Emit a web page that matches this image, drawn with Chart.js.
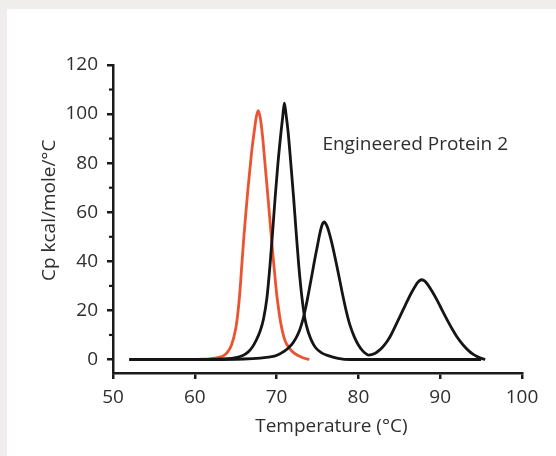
<!DOCTYPE html>
<html>
<head>
<meta charset="utf-8">
<script src="https://cdn.jsdelivr.net/npm/chart.js@4"></script>
<style>
  html, body { margin: 0; padding: 0; background: #efeeec; }
  #panel { position: absolute; left: 7px; top: 9px; width: 549px; height: 447px; background: #fff; }
  canvas { display: block; }
</style>
</head>
<body>
<div id="panel"><canvas id="dscChart" width="549" height="447"></canvas></div>
<script>
// DSC thermograms
const redTemp = [60, 61, 62, 63, 63.5, 64, 64.5, 65, 65.25, 65.5, 65.75, 66, 66.25, 66.5, 66.75, 67, 67.25, 67.5, 67.75, 68,
                 68.25, 68.5, 68.75, 69, 69.25, 69.5, 69.75, 70, 70.25, 70.5, 71, 71.5, 72, 72.7, 73.3, 74];
const redCp   = [0, 0.1, 0.4, 0.9, 1.5, 3.0, 6.0, 12.5, 18.5, 27, 38.7, 50, 60, 69.5, 78, 86, 92.5, 98.5, 101.4, 98.5,
                 92, 83, 73.5, 64, 54, 44.5, 35.5, 27, 20.5, 15, 8, 4.9, 3, 1.5, 0.6, 0];

const peak1Temp = [52, 60, 63, 64, 65, 65.8, 66.5, 67, 67.5, 68, 68.4, 68.82, 69.2, 69.52, 69.82, 70.15, 70.55, 70.75, 70.95, 71.15,
                   71.4, 71.75, 72.08, 72.38, 72.7, 73.1, 73.45, 73.85, 74.3, 74.75, 75.5, 76.4, 77.5, 79, 95];
const peak1Cp   = [0, 0, 0.1, 0.3, 0.8, 1.5, 3, 4.9, 7.8, 11.7, 16.5, 25.2, 38.7, 52.3, 65.9, 79.4, 93, 99, 104.5, 100,
                   93, 79.4, 65.9, 52.3, 38.7, 25.2, 16.8, 11.4, 7.5, 4.9, 2.7, 1.5, 0.5, 0, 0];

const peak2Temp = [52, 62, 66, 68, 69, 69.85, 70.5, 71, 71.5, 72, 72.4, 72.8, 73, 73.25, 73.5, 73.75, 74, 74.25, 74.5, 74.75,
                   75, 75.25, 75.5, 75.65, 75.83, 76, 76.25, 76.5, 76.75, 77, 77.25, 77.5, 77.75, 78, 78.25, 78.5, 78.75, 79, 79.5, 80,
                   80.5, 81, 81.25, 82, 82.5, 83, 83.5, 84, 84.5, 85, 85.5, 86, 86.5, 87, 87.25, 87.5, 87.73, 88, 88.25, 88.5,
                   89, 89.5, 90, 90.5, 91, 91.5, 92, 92.5, 93, 93.5, 94, 94.5, 95, 95.5];
const peak2Cp   = [0, 0, 0.2, 0.6, 1.0, 1.5, 2.5, 3.5, 4.9, 6.8, 8.9, 11.8, 13.8, 16.7, 20.3, 24.3, 28.7, 33.2, 37.8, 42.3,
                   46.5, 50.8, 54.2, 55.5, 56.1, 55.4, 53.6, 50.8, 47.5, 43.8, 39.9, 35.9, 31.8, 27.6, 23.6, 19.9, 16.6, 13.7, 9.2, 5.9,
                   3.6, 2.2, 1.8, 2.4, 3.6, 5.2, 7.3, 10.1, 13.5, 17.0, 20.5, 24.0, 27.3, 30.2, 31.4, 32.2, 32.5, 32.2, 31.5, 30.4,
                   27.8, 24.9, 21.7, 18.4, 15.2, 12.2, 9.5, 7.2, 5.2, 3.5, 2.2, 1.2, 0.5, 0];

const xTicksStep = 10;
const yTicksStep = 20;
const yMinorTicks = [10, 30, 50, 70, 90, 110];

const xTitle = 'Temperature (°C)';
const yTitle = 'Cp kcal/mole/°C';
const annotation = 'Engineered Protein 2';

const axisColor = '#1a1a1a';
const textColor = '#2e2e2e';
const fontFamily = '"Open Sans", "Noto Sans", sans-serif';

function toPoints(xs, ys) {
    return xs.map((x, i) => ({ x: x, y: ys[i] }));
}

// minor y ticks, axis titles and the in-plot label
const extras = {
    id: 'extras',
    afterDraw(chart) {
        const { ctx, chartArea, scales } = chart;
        const x = scales.x, y = scales.y;
        ctx.save();
        ctx.strokeStyle = axisColor;
        ctx.lineWidth = 2.2;
        yMinorTicks.forEach(v => {
            const py = y.getPixelForValue(v);
            ctx.beginPath();
            ctx.moveTo(chartArea.left - 4, py);
            ctx.lineTo(chartArea.left, py);
            ctx.stroke();
        });

        ctx.fillStyle = textColor;
        ctx.font = '19px ' + fontFamily;
        ctx.textBaseline = 'alphabetic';
        ctx.textAlign = 'left';
        ctx.fillText(annotation, x.getPixelForValue(75.6), y.getPixelForValue(85.4));

        ctx.textAlign = 'center';
        ctx.fillText(xTitle, x.getPixelForValue(76.7), chartArea.bottom + 59);

        ctx.translate(48, y.getPixelForValue(60.8));
        ctx.rotate(-Math.PI / 2);
        ctx.fillText(yTitle, 0, 0);
        ctx.restore();
    }
};

const lineStyle = { borderWidth: 2.8, pointRadius: 0, cubicInterpolationMode: 'monotone' };

new Chart(document.getElementById('dscChart'), {
    type: 'line',
    data: {
        datasets: [
            Object.assign({ data: toPoints(peak1Temp, peak1Cp), borderColor: '#151515' }, lineStyle),
            Object.assign({ data: toPoints(peak2Temp, peak2Cp), borderColor: '#151515' }, lineStyle),
            Object.assign({ data: toPoints(redTemp, redCp), borderColor: '#ea5430' }, lineStyle)
        ]
    },
    options: {
        responsive: false,
        animation: false,
        layout: { padding: { top: 56, right: 34, left: 0, bottom: 0 } },
        plugins: {
            legend: { display: false },
            tooltip: { enabled: false }
        },
        scales: {
            x: {
                type: 'linear',
                min: 50,
                max: 100,
                afterFit: scale => { scale.height = 83; },
                ticks: {
                    stepSize: xTicksStep,
                    color: textColor,
                    padding: 7,
                    font: { family: fontFamily, size: 19 }
                },
                grid: { drawOnChartArea: false, drawTicks: true, tickLength: 6, color: axisColor, lineWidth: 2.5 },
                border: { display: true, color: axisColor, width: 2.5 }
            },
            y: {
                min: -5.5,
                max: 120,
                afterFit: scale => { scale.width = 106; },
                ticks: {
                    stepSize: yTicksStep,
                    includeBounds: false,
                    color: textColor,
                    padding: 9,
                    font: { family: fontFamily, size: 19 }
                },
                grid: { drawOnChartArea: false, drawTicks: true, tickLength: 6, color: axisColor, lineWidth: 2.5 },
                border: { display: true, color: axisColor, width: 2.5 }
            }
        }
    },
    plugins: [extras]
});
</script>
</body>
</html>
